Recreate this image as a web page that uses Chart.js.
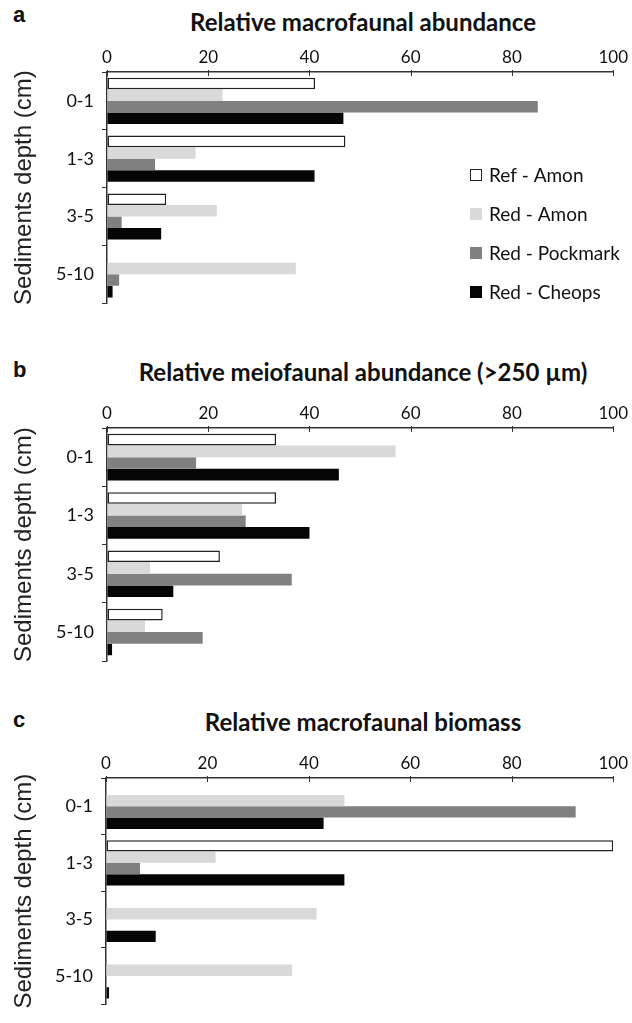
<!DOCTYPE html>
<html>
<head>
<meta charset="utf-8">
<script src="https://cdn.jsdelivr.net/npm/chart.js@4.4.1/dist/chart.umd.min.js"></script>
<style>
  body { margin:0; background:#fff; width:632px; height:1023px; position:relative; overflow:hidden; }
  .panel { position:absolute; left:0; width:632px; }
  .ttl { position:absolute; left:111px; width:504px; text-align:center; font:bold 24px Lato, sans-serif; color:#111; line-height:24px; white-space:nowrap; }
  .let { position:absolute; left:13px; font:bold 22px 'Liberation Sans', sans-serif; color:#111; line-height:22px; }
</style>
</head>
<body>
<div class="let" style="top:4px">a</div>
<div class="ttl" style="top:10px">Relative macrofaunal abundance</div>
<div class="panel" style="top:32px;height:290px"><canvas id="chartA"></canvas></div>

<div class="let" style="top:359px">b</div>
<div class="ttl" style="top:360px">Relative meiofaunal abundance (&gt;250 µm)</div>
<div class="panel" style="top:388px;height:292px"><canvas id="chartB"></canvas></div>

<div class="let" style="top:709px">c</div>
<div class="ttl" style="top:710px">Relative macrofaunal biomass</div>
<div class="panel" style="top:738px;height:285px"><canvas id="chartC"></canvas></div>

<script>
// ── DATA ──────────────────────────────────────────────
const depths      = ['0-1', '1-3', '3-5', '5-10'];
const seriesNames = ['Ref - Amon', 'Red - Amon', 'Red - Pockmark', 'Red - Cheops'];
const xTicks      = [0, 20, 40, 60, 80, 100];

// a: relative macrofaunal abundance
const macroAbundRefAmon  = [41.1, 47.1, 11.7, 0];
const macroAbundRedAmon  = [22.8, 17.5, 21.7, 37.3];
const macroAbundPockmark = [85.1, 9.5, 2.9, 2.4];
const macroAbundCheops   = [46.7, 41.0, 10.7, 1.1];

// b: relative meiofaunal abundance (>250 µm)
const meioAbundRefAmon  = [33.4, 33.4, 22.3, 11.0];
const meioAbundRedAmon  = [57.0, 26.7, 8.5, 7.5];
const meioAbundPockmark = [17.6, 27.4, 36.5, 18.9];
const meioAbundCheops   = [45.8, 40.0, 13.1, 1.0];

// c: relative macrofaunal biomass
const macroBioRefAmon  = [0, 100, 0, 0];
const macroBioRedAmon  = [47.0, 21.6, 41.5, 36.7];
const macroBioPockmark = [92.6, 6.7, 0, 0];
const macroBioCheops   = [42.9, 47.0, 9.8, 0.6];

// ── STYLE ─────────────────────────────────────────────
const fills   = ['#ffffff', '#d9d9d9', '#808080', '#050505'];
const borders = ['#222222', '#d9d9d9', '#808080', '#050505'];
const bWidths = [1.5, 0, 0, 0];

// small inward tick marks on the top value axis
const innerTicks = {
  id: 'innerTicks',
  afterDraw(chart) {
    const sx = chart.scales.x, ctx = chart.ctx, top = chart.chartArea.top;
    ctx.save();
    ctx.strokeStyle = '#333'; ctx.lineWidth = 1;
    sx.ticks.forEach(t => {
      const px = Math.round(sx.getPixelForValue(t.value)) + 0.5;
      ctx.beginPath(); ctx.moveTo(px, top - 2); ctx.lineTo(px, top + 4); ctx.stroke();
    });
    ctx.restore();
  }
};

// legend drawn inside the plot (panel a only)
const boxLegend = {
  id: 'boxLegend',
  afterDraw(chart, args, o) {
    if (!o.show) return;
    const ctx = chart.ctx;
    ctx.save();
    chart.data.datasets.forEach((ds, i) => {
      const y = o.y + i * o.gap;
      ctx.fillStyle = ds.backgroundColor;
      ctx.fillRect(o.x, y - 6, 12, 12);
      if (ds.borderWidth) {
        ctx.strokeStyle = ds.borderColor; ctx.lineWidth = 1;
        ctx.strokeRect(o.x + 0.5, y - 5.5, 11, 11);
      }
      ctx.fillStyle = '#111';
      ctx.font = '19px Lato';
      ctx.textBaseline = 'middle';
      ctx.fillText(ds.label, o.x + 19, y + 1);
    });
    ctx.restore();
  }
};

function buildPanel(canvasId, series, left, legend) {
  return new Chart(document.getElementById(canvasId), {
    type: 'bar',
    data: {
      labels: depths,
      datasets: series.map((vals, i) => ({
        label: seriesNames[i], data: vals,
        backgroundColor: fills[i], borderColor: borders[i], borderWidth: bWidths[i],
        borderSkipped: false, barPercentage: 1.0, categoryPercentage: 0.8,
      })),
    },
    options: {
      indexAxis: 'y',
      responsive: true, maintainAspectRatio: false, animation: false,
      layout: { padding: { left: 0, right: 0, top: 0, bottom: 3 } },
      plugins: {
        legend: { display: false },
        tooltip: { enabled: false },
        boxLegend: legend || { show: false },
      },
      scales: {
        x: {
          position: 'top', min: 0, max: 100,
          afterBuildTicks: s => { s.ticks = xTicks.map(v => ({ value: v })); },
          afterFit: s => { s.height = 40; },
          ticks: { color: '#111', font: { family: 'Lato', size: 17 }, padding: 4, maxRotation: 0 },
          grid: { drawOnChartArea: false, drawTicks: false },
          border: { color: '#333', width: 1.5 },
        },
        y: {
          type: 'category', offset: true,
          afterFit: s => { s.width = left; },
          grid: { offset: true, drawOnChartArea: false, drawTicks: true, tickLength: 5, color: '#333' },
          border: { color: '#333', width: 1.5 },
          ticks: { color: '#111', font: { family: 'Lato', size: 18 }, padding: 8 },
          title: { display: true, text: 'Sediments depth (cm)', color: '#222',
                   font: { family: 'Liberation Sans', size: 24 }, padding: { top: 10, bottom: 0 } },
        },
      },
    },
    plugins: [innerTicks, boxLegend],
  });
}

buildPanel('chartA', [macroAbundRefAmon, macroAbundRedAmon, macroAbundPockmark, macroAbundCheops], 107,
  { show: true, x: 470, y: 175 - 32, gap: 39 });
buildPanel('chartB', [meioAbundRefAmon, meioAbundRedAmon, meioAbundPockmark, meioAbundCheops], 107);
buildPanel('chartC', [macroBioRefAmon, macroBioRedAmon, macroBioPockmark, macroBioCheops], 106);
</script>
</body>
</html>
